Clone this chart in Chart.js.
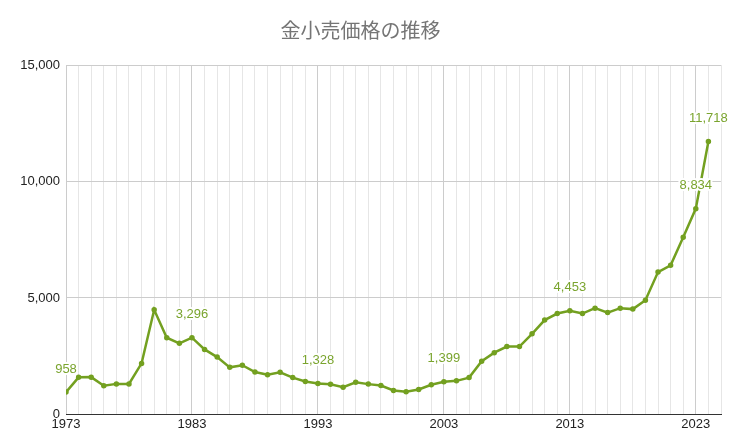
<!DOCTYPE html>
<html>
<head>
<meta charset="utf-8">
<script src="https://cdn.jsdelivr.net/npm/chart.js@4"></script>
<style>
  html, body { margin: 0; padding: 0; background: #fff; }
  #wrap { width: 739px; height: 448px; }
</style>
</head>
<body>
<div id="wrap"><canvas id="chart"></canvas></div>
<script>
const years = [
  1973, 1974, 1975, 1976, 1977, 1978, 1979, 1980, 1981, 1982,
  1983, 1984, 1985, 1986, 1987, 1988, 1989, 1990, 1991, 1992,
  1993, 1994, 1995, 1996, 1997, 1998, 1999, 2000, 2001, 2002,
  2003, 2004, 2005, 2006, 2007, 2008, 2009, 2010, 2011, 2012,
  2013, 2014, 2015, 2016, 2017, 2018, 2019, 2020, 2021, 2022,
  2023, 2024
];
const prices = [
  958, 1590, 1600, 1230, 1310, 1310, 2190, 4490, 3290, 3050,
  3296, 2790, 2460, 2020, 2110, 1820, 1700, 1810, 1580, 1410,
  1328, 1290, 1170, 1380, 1300, 1240, 1030, 970, 1070, 1270,
  1399, 1440, 1580, 2280, 2650, 2910, 2910, 3460, 4050, 4330,
  4453, 4330, 4560, 4370, 4560, 4520, 4900, 6110, 6400, 7610,
  8834, 11718
];
const labelYears = [1973, 1983, 1993, 2003, 2013, 2023, 2024];
const yTicks = [0, 5000, 10000, 15000];

const GREEN = '#73a020';
const LABEL_GREEN = '#7aa42e';

function $(id) {
  return document.getElementById(id);
}

// draws the value above the chosen points, with a white halo
const pointLabels = {
  id: 'pointLabels',
  afterDatasetsDraw(chart) {
    const meta = chart.getDatasetMeta(0);
    const ctx = chart.ctx;
    ctx.save();
    ctx.font = '13px "Liberation Sans", Arial, sans-serif';
    ctx.textAlign = 'center';
    ctx.textBaseline = 'middle';
    ctx.lineJoin = 'round';
    ctx.lineWidth = 4;
    ctx.strokeStyle = '#fff';
    ctx.fillStyle = LABEL_GREEN;
    years.forEach((yr, i) => {
      if (!labelYears.includes(yr)) return;
      const p = meta.data[i];
      const txt = prices[i].toLocaleString('en-US');
      ctx.strokeText(txt, p.x, p.y - 23);
      ctx.fillText(txt, p.x, p.y - 23);
    });
    ctx.restore();
  }
};

function buildChart() {
  const el = $('chart');
  return new Chart(el, {
    type: 'line',
    data: {
      datasets: [{
        data: years.map((yr, i) => ({ x: yr, y: prices[i] })),
        borderColor: GREEN,
        backgroundColor: GREEN,
        borderWidth: 2.5,
        pointRadius: 1.5,
        pointHoverRadius: 1.5,
        tension: 0
      }]
    },
    options: {
      responsive: true,
      maintainAspectRatio: false,
      animation: false,
      layout: { padding: { left: 0, right: 18, top: 0, bottom: 14 } },
      plugins: {
        legend: { display: false },
        tooltip: { enabled: false },
        title: {
          display: true,
          text: '金小売価格の推移',
          color: '#757575',
          font: { size: 20, family: '"Noto Sans CJK JP", sans-serif', weight: 'normal' },
          padding: { top: 18, bottom: 23 }
        }
      },
      scales: {
        x: {
          type: 'linear',
          min: 1973,
          max: 2025,
          afterBuildTicks: (axis) => {
            axis.ticks = [];
            for (let v = 1973; v <= 2025; v++) axis.ticks.push({ value: v });
          },
          ticks: {
            autoSkip: false,
            maxRotation: 0,
            padding: 2,
            color: '#222',
            font: { size: 13, family: '"Liberation Sans", Arial, sans-serif' },
            callback: (v) => ((v - 1973) % 10 === 0 ? String(v) : '')
          },
          grid: {
            drawTicks: false,
            color: (c) => ((c.tick && (c.tick.value - 1973) % 10 === 0) ? '#cccccc' : '#e6e6e6'),
            lineWidth: 1
          },
          border: { display: true, color: '#333', width: 1 }
        },
        y: {
          min: 0,
          max: 15000,
          afterBuildTicks: (axis) => {
            axis.ticks = yTicks.map((v) => ({ value: v }));
          },
          afterFit: (axis) => { axis.width = 66; },
          ticks: {
            padding: 6,
            color: '#222',
            font: { size: 13, family: '"Liberation Sans", Arial, sans-serif' },
            callback: (v) => Number(v).toLocaleString('en-US')
          },
          grid: { drawTicks: false, color: '#cccccc' },
          border: { display: false }
        }
      }
    },
    plugins: [pointLabels]
  });
}

buildChart();
</script>
</body>
</html>
